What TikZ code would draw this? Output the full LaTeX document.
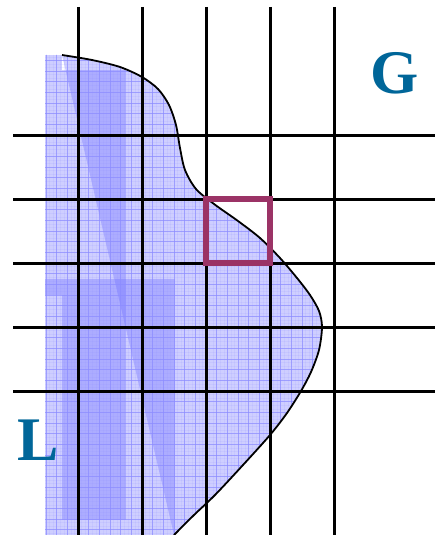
\documentclass[tikz,border=0pt]{standalone}
\usepackage{fontspec}
\setmainfont{Liberation Serif}
\definecolor{layblue}{RGB}{102,102,255}
\definecolor{finegrid}{RGB}{140,140,255}
\definecolor{boxred}{RGB}{155,51,102}
\definecolor{lettblue}{RGB}{0,102,153}
\tikzset{
  lay/.style={fill=layblue, fill opacity=0.32},
  fineline/.style={draw=finegrid, line width=0.8pt, opacity=0.7},
  subline/.style={draw=finegrid, line width=0.5pt, opacity=0.12},
  mainline/.style={draw=black, line width=3pt},
  curveline/.style={draw=black, line width=1.8pt},
  cellbox/.style={draw=boxred, line width=6pt},
  letter/.style={text=lettblue, font=\fontsize{62}{62}\selectfont\bfseries, inner sep=0pt}
}
\begin{document}
\begin{tikzpicture}[x=1pt, y=-1pt]
\useasboundingbox (0,0) rectangle (435,535);
% layers
\fill[lay] (45,55) rectangle (62,535);
\fill[lay] (45,279) rectangle (62,295);
\fill[lay] plot[smooth, tension=0.5] coordinates {(62,55) (92,60) (120,67) (142,77) (158,89) (169,105) (176,125) (180,148) (185,170) (196,189) (214,204) (238,221) (260,238) (280,258) (297,278) (310,295) (319,311) (322,327) (319,350) (311,372) (301,391) (287,413) (270,435) (243,465) (215,495) (194,515) (174,535)} -- cycle;
\fill[lay] (62,70) rectangle (126,279);
\fill[lay] (62,279) rectangle (126,520);
\fill[lay] (62,279) rectangle (175,535);
% fine grid clipped to region
\begin{scope}
\clip (45,55) -- plot[smooth, tension=0.5] coordinates {(62,55) (92,60) (120,67) (142,77) (158,89) (169,105) (176,125) (180,148) (185,170) (196,189) (214,204) (238,221) (260,238) (280,258) (297,278) (310,295) (319,311) (322,327) (319,350) (311,372) (301,391) (287,413) (270,435) (243,465) (215,495) (194,515) (174,535)} -- (45,535) -- cycle;
\foreach \k in {-10,...,72} {
  \draw[subline] ({78+3.5556*\k},50) -- ++(0,490);
}
\foreach \k in {-25,...,114} {
  \draw[subline] (40,{135+3.5556*\k}) -- ++(290,0);
}
\foreach \k in {-3,...,24} {
  \draw[fineline] ({78+10.6667*\k},50) -- ++(0,490);
}
\foreach \k in {-8,...,38} {
  \draw[fineline] (40,{135+10.6667*\k}) -- ++(290,0);
}
\end{scope}
% boundary curve
\draw[curveline] plot[smooth, tension=0.5] coordinates {(62,55) (92,60) (120,67) (142,77) (158,89) (169,105) (176,125) (180,148) (185,170) (196,189) (214,204) (238,221) (260,238) (280,258) (297,278) (310,295) (319,311) (322,327) (319,350) (311,372) (301,391) (287,413) (270,435) (243,465) (215,495) (194,515) (174,535)};
% main grid
\foreach \x in {78,142,206,270,334} {
  \draw[mainline] (\x,7) -- (\x,535);
}
\foreach \y in {135,199,263,327,391} {
  \draw[mainline] (13,\y) -- (435,\y);
}
% cell
\draw[cellbox] (206,199) rectangle (270,263);
% labels
\node[letter] (G) at (394.5,73.5) {G};
\node[letter] (L) at (38.5,440) {L};
\end{tikzpicture}
\end{document}
